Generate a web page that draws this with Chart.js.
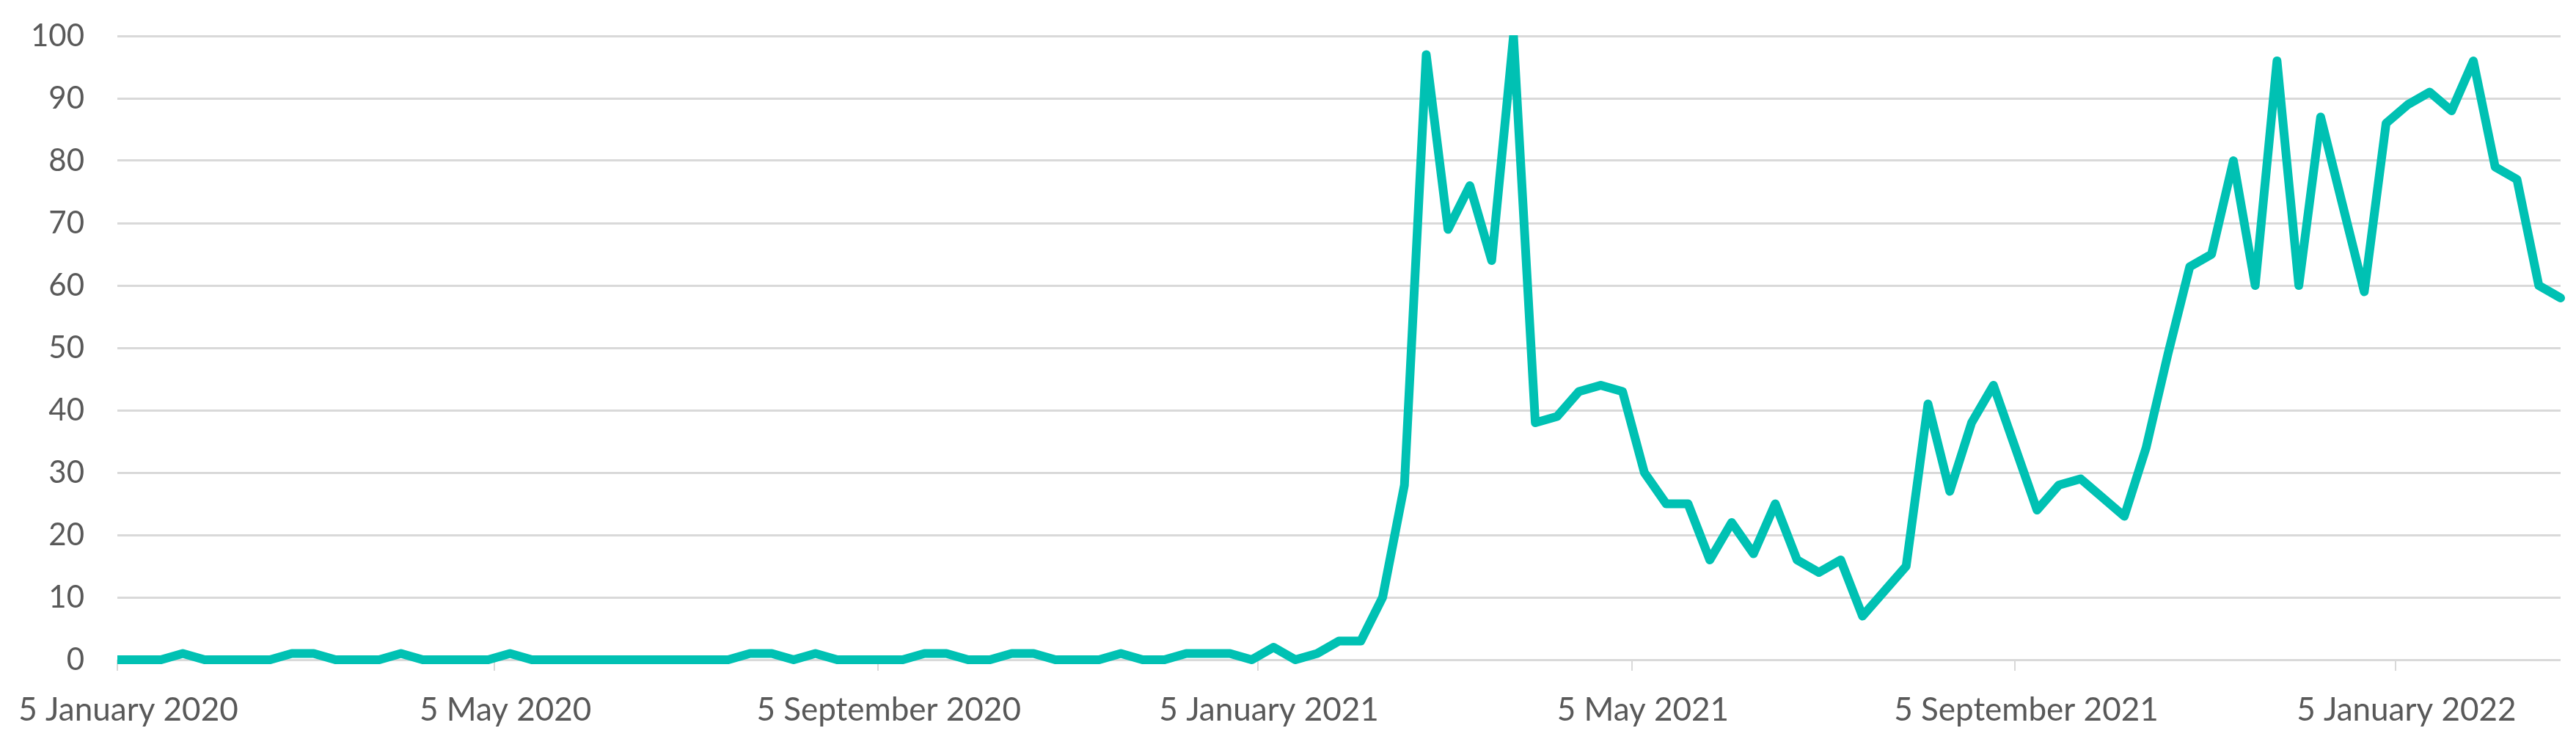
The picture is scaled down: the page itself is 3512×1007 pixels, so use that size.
<!DOCTYPE html>
<html>
<head>
<meta charset="utf-8">
<title>Weekly interest</title>
<script src="https://cdn.jsdelivr.net/npm/chart.js@4/dist/chart.umd.min.js"></script>
<style>
    html, body { margin: 0; padding: 0; background: #ffffff; }
    #wrap { position: relative; width: 3512px; height: 1007px; }
</style>
</head>
<body>
<div id="wrap"><canvas id="trendChart"></canvas></div>
<script>
// first week of the series, one value per week after that
const startDate = '2020-01-05';

const weekValues = [
    0, 0, 0, 1, 0, 0, 0, 0, 1, 1,
    0, 0, 0, 1, 0, 0, 0, 0, 1, 0,
    0, 0, 0, 0, 0, 0, 0, 0, 0, 1,
    1, 0, 1, 0, 0, 0, 0, 1, 1, 0,
    0, 1, 1, 0, 0, 0, 1, 0, 0, 1,
    1, 1, 0, 2, 0, 1, 3, 3, 10, 28,
    97, 69, 76, 64, 100, 38, 39, 43, 44, 43,
    30, 25, 25, 16, 22, 17, 25, 16, 14, 16,
    7, 11, 15, 41, 27, 38, 44, 34, 24, 28,
    29, 26, 23, 34, 49, 63, 65, 80, 60, 96,
    60, 87, 73, 59, 86, 89, 91, 88, 96, 79,
    77, 60, 58
];

const tickDates = ['2020-01-05', '2020-05-05', '2020-09-05', '2021-01-05', '2021-05-05', '2021-09-05', '2022-01-05'];
const tickLabels = ['5 January 2020', '5 May 2020', '5 September 2020', '5 January 2021', '5 May 2021', '5 September 2021', '5 January 2022'];

const yTicks = [0, 10, 20, 30, 40, 50, 60, 70, 80, 90, 100];

const DAY = 24 * 3600 * 1000;
function daysFromStart(d) {
    return Math.round((Date.parse(d + 'T00:00:00Z') - Date.parse(startDate + 'T00:00:00Z')) / DAY);
}

// weekly points, x = days since the first week
const points = weekValues.map((v, i) => ({ x: i * 7, y: v }));
const tickDays = tickDates.map(daysFromStart);

const ctx = document.getElementById('trendChart').getContext('2d');
new Chart(ctx, {
    type: 'line',
    data: {
        datasets: [{
            data: points,
            borderColor: '#00c1b3',
            borderWidth: 12,
            borderJoinStyle: 'round',
            borderCapStyle: 'round',
            pointRadius: 0,
            tension: 0,
            fill: false,
            clip: { left: 0, top: 1, right: 8, bottom: 8 }
        }]
    },
    options: {
        responsive: true,
        maintainAspectRatio: false,
        animation: false,
        layout: { padding: { top: 49, right: 21, bottom: 0, left: 0 } },
        plugins: {
            legend: { display: false },
            tooltip: { enabled: false }
        },
        scales: {
            x: {
                type: 'linear',
                min: 0,
                max: (weekValues.length - 1) * 7,
                afterBuildTicks: scale => {
                    scale.ticks = tickDays.map(v => ({ value: v }));
                },
                afterFit: scale => {
                    scale.height = 108;
                    scale.paddingLeft = 0;
                    scale.paddingRight = 0;
                },
                border: { display: false },
                grid: {
                    drawOnChartArea: false,
                    drawTicks: true,
                    tickLength: 15,
                    color: '#d9d9d9',
                    lineWidth: 2
                },
                ticks: {
                    autoSkip: false,
                    maxRotation: 0,
                    padding: 27,
                    labelOffset: 15,
                    color: '#595959',
                    font: { family: 'Lato', size: 44 },
                    callback: value => tickLabels[tickDays.indexOf(value)]
                }
            },
            y: {
                min: 0,
                max: 100,
                afterBuildTicks: scale => {
                    scale.ticks = yTicks.map(v => ({ value: v }));
                },
                afterFit: scale => {
                    scale.width = 160;
                    scale.paddingTop = 0;
                    scale.paddingBottom = 0;
                },
                border: { display: false },
                grid: {
                    color: '#d9d9d9',
                    lineWidth: 3,
                    drawTicks: false
                },
                ticks: {
                    padding: 45,
                    color: '#595959',
                    font: { family: 'Lato', size: 42 }
                }
            }
        }
    }
});
</script>
</body>
</html>
